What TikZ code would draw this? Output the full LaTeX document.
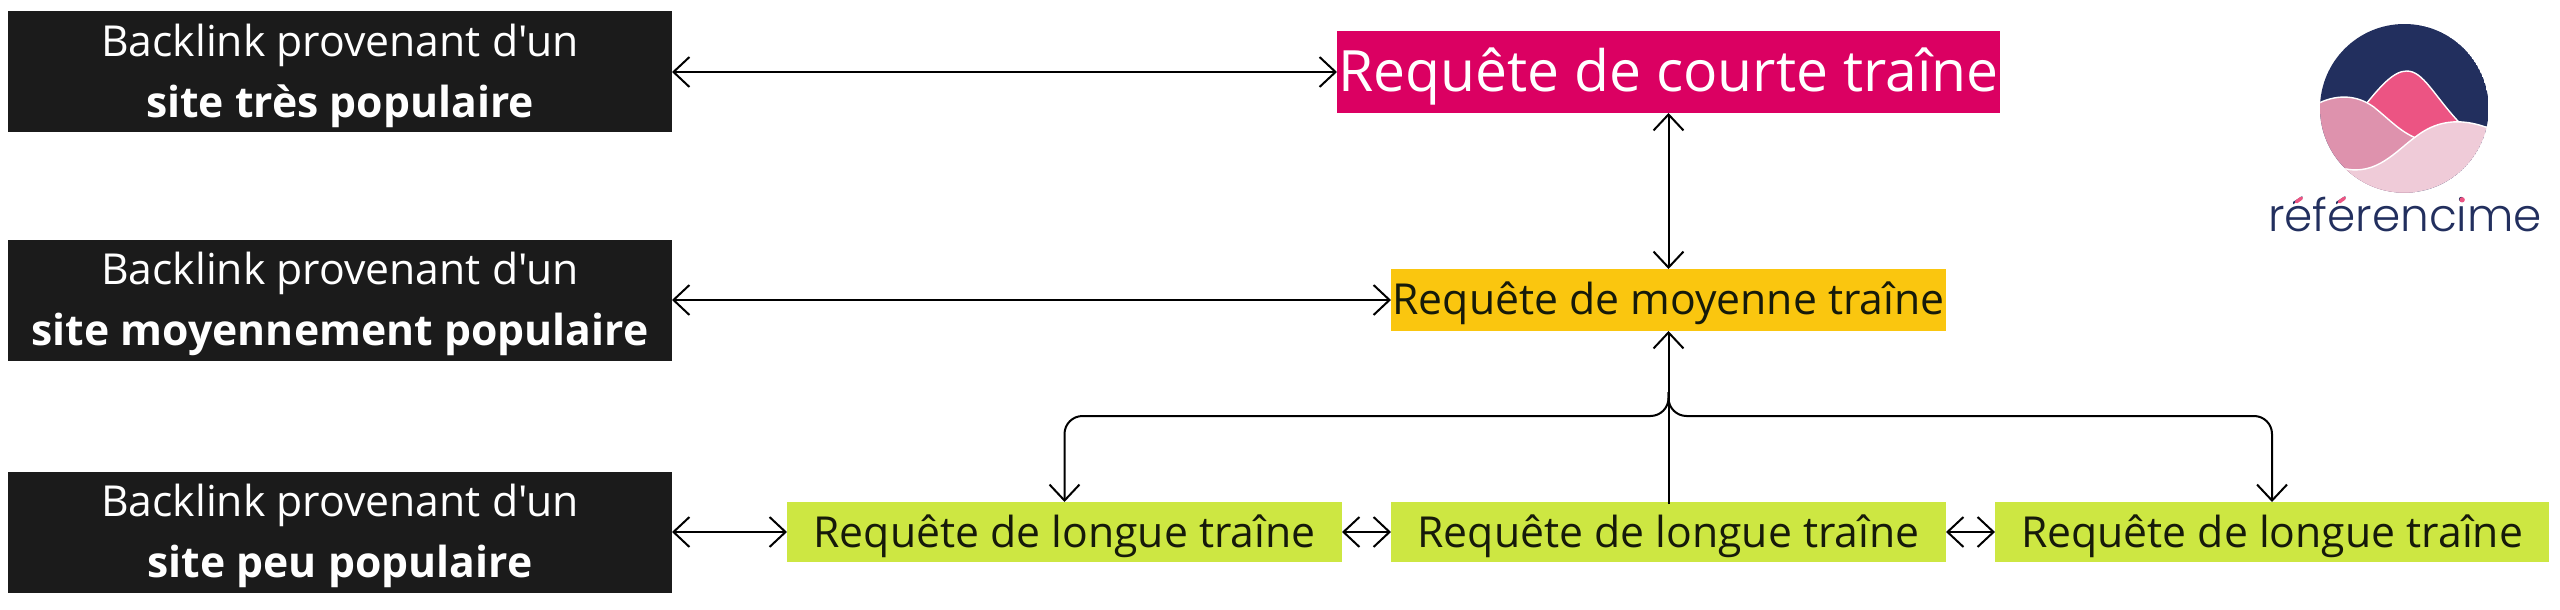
\documentclass[tikz,border=0pt]{standalone}
\usepackage{fontspec}
\usetikzlibrary{arrows.meta}
\setmainfont{Open Sans}[Ligatures=TeXOff]
\newfontfamily\logofont{Poppins Light}
\definecolor{boxblack}{HTML}{1B1B1B}
\definecolor{magentabox}{HTML}{DB0062}
\definecolor{yellowbox}{HTML}{FAC60F}
\definecolor{greenbox}{HTML}{CDE742}
\definecolor{inkdark}{HTML}{161A0A}
\definecolor{navy}{HTML}{222F5E}
\definecolor{pinkA}{HTML}{EC5483}
\definecolor{pinkB}{HTML}{DE92AD}
\definecolor{pinkC}{HTML}{EFCBD8}
\newcommand{\pxs}[2]{\fontsize{#1}{#2}\selectfont}
% a line set on its baseline, lowered by #1, taking no height of its own
\newcommand{\tln}[2]{\raisebox{-#1}[0pt][0pt]{#2}}
\newlength\wa \newlength\wb \newlength\wc \newlength\we \newlength\wi
\AtBeginDocument{%
  \settowidth\wa{\logofont\pxs{22.7pt}{28pt}r}%
  \settowidth\wb{\logofont\pxs{22.7pt}{28pt}réf}%
  \settowidth\wc{\logofont\pxs{22.7pt}{28pt}référenc}%
  \settowidth\we{\logofont\pxs{22.7pt}{28pt}é}%
  \settowidth\wi{\logofont\pxs{22.7pt}{28pt}i}%
}
\tikzset{
  bx/.style={inner sep=0pt,outer sep=0pt,align=center,anchor=center},
  blackbox/.style={bx,fill=boxblack,text=white,minimum width=332pt,minimum height=60.5pt,font=\pxs{21.35pt}{30.5pt}},
  greenlabel/.style={bx,fill=greenbox,text=inkdark,minimum height=30pt,font=\pxs{21.35pt}{26pt}},
  link/.style={draw=black,line width=1pt,{Straight Barb[length=8pt,width=15pt,line width=1pt]}-{Straight Barb[length=8pt,width=15pt,line width=1pt]}},
  branch/.style={draw=black,line width=1pt,rounded corners=9pt,-{Straight Barb[length=8pt,width=15pt,line width=1pt]}},
  trunk/.style={draw=black,line width=1pt,-{Straight Barb[length=8pt,width=15pt,line width=1pt]}},
  accentstroke/.style={draw=pinkA,line width=1.7pt,line cap=round}
}
\begin{document}
\begin{tikzpicture}[x=0.5pt,y=-0.5pt]
\useasboundingbox[fill=white] (0,0) rectangle (2560,610);
\node[blackbox] (b1) at (340,72) {\tln{7.5pt}{Backlink provenant d'un}\\\tln{7.5pt}{\textbf{site très populaire}}};
\node[blackbox] (b2) at (340,300) {\tln{7.5pt}{Backlink provenant d'un}\\\tln{7.5pt}{\textbf{site moyennement populaire}}};
\node[blackbox] (b3) at (340,532) {\tln{7.5pt}{Backlink provenant d'un}\\\tln{7.5pt}{\textbf{site peu populaire}}};
\node[bx,fill=magentabox,text=white,minimum width=331.5pt,minimum height=41pt,font=\pxs{28.5pt}{34pt}] (m) at (1668.5,72) {\tln{10pt}{Requête de courte traîne}};
\node[bx,fill=yellowbox,text=inkdark,minimum width=277.5pt,minimum height=31pt,font=\pxs{21.35pt}{26pt}] (y) at (1668.5,300) {\tln{7pt}{Requête de moyenne traîne}};
\node[greenlabel,minimum width=277.5pt] (g1) at (1064.5,532) {\tln{7.5pt}{Requête de longue traîne}};
\node[greenlabel,minimum width=277.5pt] (g2) at (1668.5,532) {\tln{7.5pt}{Requête de longue traîne}};
\node[greenlabel,minimum width=277pt] (g3) at (2272,532) {\tln{7.5pt}{Requête de longue traîne}};
\draw[link] (b1.east) -- (m.west);
\draw[link] (b2.east) -- (y.west);
\draw[link] (b3.east) -- (g1.west);
\draw[link] (m.south) -- (y.north);
\draw[link] (g1.east) -- (g2.west);
\draw[link] (g2.east) -- (g3.west);
\draw[trunk] ([yshift=-1pt]g2.north) -- (y.south);
\coordinate (j) at (1668.5,392);
\coordinate (h) at (1668.5,416);
\draw[branch] (j) -- (h) -- (g1.north |- h) -- (g1.north);
\draw[branch] (j) -- (h) -- (g3.north |- h) -- (g3.north);
% logo
\begin{scope}[shift={(2220,0)},x=0.16667pt,y=-0.16667pt]
\begin{scope}
\clip (553,325) circle [radius=253];
\fill[navy] (553,325) circle [radius=253];
\path[fill=pinkA,draw=white,line width=0.7pt] (430,322) .. controls (480,260) and (520,213) .. (560,213) .. controls (610,213) and (640,285) .. (720,370) -- (590,430) -- cycle;
\path[fill=pinkB,draw=white,line width=0.7pt] (285,315) .. controls (350,280) and (410,285) .. (460,320) .. controls (510,360) and (540,395) .. (590,415) -- (590,620) -- (270,620) -- cycle;
\path[fill=pinkC,draw=white,line width=0.7pt] (370,505) .. controls (470,530) and (530,450) .. (590,408) .. controls (640,370) and (710,345) .. (815,388) -- (830,620) -- (340,620) -- cycle;
\end{scope}
\node[inner sep=0pt,outer sep=0pt,anchor=base,text=navy,font=\logofont\pxs{22.7pt}{28pt}] (logo) at (555,693) {référencime};
\draw[accentstroke] ([shift={(\wa+0.5\we-1.1pt,14.6pt)}]logo.base west) -- ([shift={(\wa+0.5\we+1.4pt,16.4pt)}]logo.base west);
\draw[accentstroke] ([shift={(\wb+0.5\we-1.1pt,14.6pt)}]logo.base west) -- ([shift={(\wb+0.5\we+1.4pt,16.4pt)}]logo.base west);
\fill[pinkA] ([shift={(\wc+0.5\wi,15.6pt)}]logo.base west) circle [radius=8];
\end{scope}
\end{tikzpicture}
\end{document}
